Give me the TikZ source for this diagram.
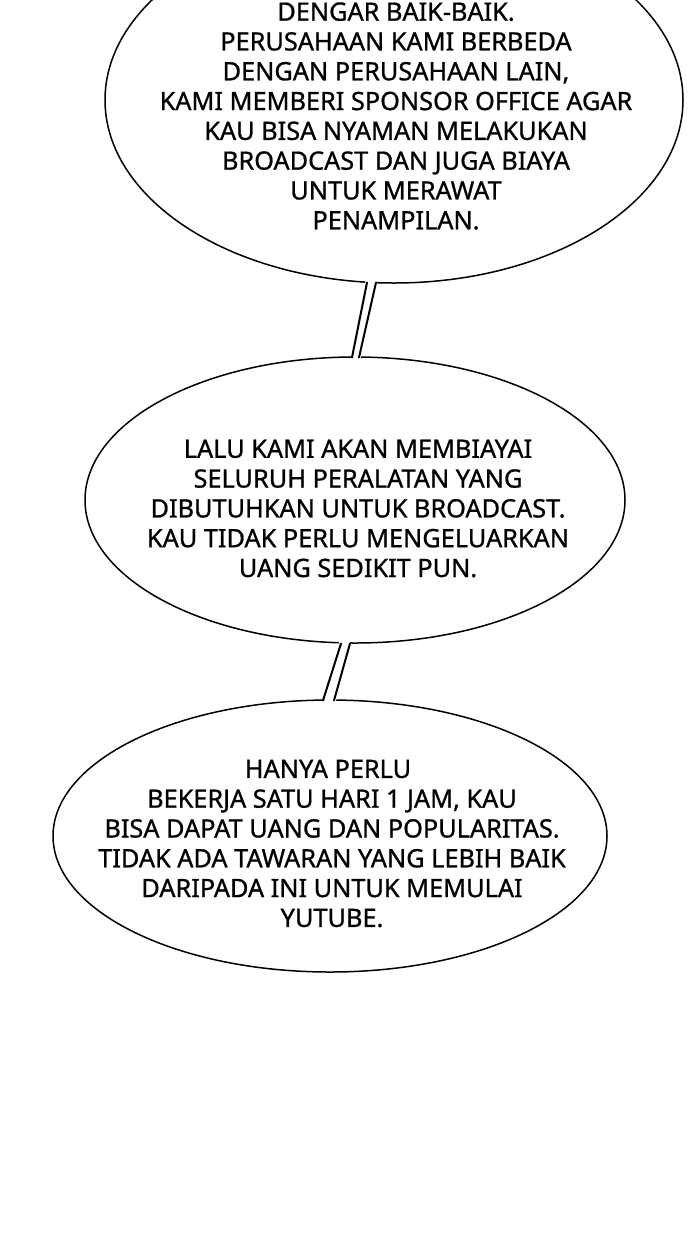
\documentclass[tikz,border=0pt]{standalone}
\usepackage{fontspec}
\setmainfont[FakeBold=0.9]{Noto Sans}
\usetikzlibrary{shapes.geometric}
\tikzset{
  bubble/.style={ellipse, draw=black, line width=1.5pt, fill=white, inner sep=0pt},
  bubtext/.style={align=center, inner sep=0pt, font=\fontsize{25.3}{29.8}\selectfont},
  tailfill/.style={fill=white, draw=none},
  tailline/.style={line width=2pt, line cap=round}
}
\begin{document}
\begin{tikzpicture}[x=1pt,y=-1pt]
\useasboundingbox (0,0) rectangle (700,1240);
\fill[white] (0,0) rectangle (700,1240);
\clip (0,0) rectangle (700,1240);
% bubbles
\node[bubble, minimum width=578pt, minimum height=366pt] (b1) at (394,100) {};
\node[bubble, minimum width=540pt, minimum height=286pt] (b2) at (355,500) {};
\node[bubble, minimum width=554pt, minimum height=272pt] (b3) at (330,836) {};
% tail 1
\coordinate (t1a) at (367,282.5);
\coordinate (t1b) at (376,282.5);
\coordinate (t1c) at (359,357.5);
\coordinate (t1d) at (352,357.5);
\fill[tailfill] (366,278) -- (377,278) -- (360,362) -- (351,362) -- cycle;
\draw[tailline] (t1a) -- (t1d);
\draw[tailline] (t1b) -- (t1c);
% tail 2
\coordinate (t2a) at (341,643.5);
\coordinate (t2b) at (350,643.5);
\coordinate (t2c) at (334,700.5);
\coordinate (t2d) at (323,700.5);
\fill[tailfill] (340,639) -- (351,639) -- (335,705) -- (322,705) -- cycle;
\draw[tailline] (t2a) -- (t2d);
\draw[tailline] (t2b) -- (t2c);
% texts
\node[bubtext] (x1) at (396,116) {DENGAR BAIK-BAIK.\\PERUSAHAAN KAMI BERBEDA\\DENGAN PERUSAHAAN LAIN,\\KAMI MEMBERI SPONSOR OFFICE AGAR\\KAU BISA NYAMAN MELAKUKAN\\BROADCAST DAN JUGA BIAYA\\UNTUK MERAWAT\\PENAMPILAN.};
\node[bubtext] (x2) at (358,508.5) {LALU KAMI AKAN MEMBIAYAI\\SELURUH PERALATAN YANG\\DIBUTUHKAN UNTUK BROADCAST.\\KAU TIDAK PERLU MENGELUARKAN\\UANG SEDIKIT PUN.};
\node[bubtext] (x3) at (332,843.5) {HANYA PERLU\hspace*{8pt}\\BEKERJA SATU HARI 1 JAM, KAU\\BISA DAPAT UANG DAN POPULARITAS.\\TIDAK ADA TAWARAN YANG LEBIH BAIK\\DARIPADA INI UNTUK MEMULAI\\YUTUBE.};
\end{tikzpicture}
\end{document}
